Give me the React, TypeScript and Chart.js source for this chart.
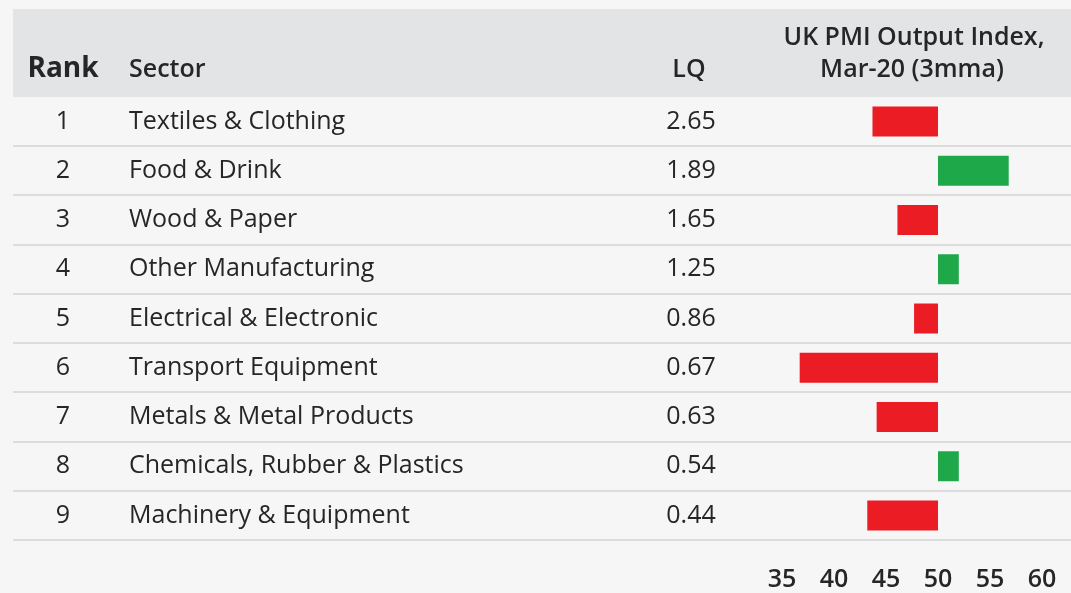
import React, { useEffect, useRef } from "react";
import { Chart, registerables } from "chart.js";

Chart.register(...registerables);

const ranks = ["1", "2", "3", "4", "5", "6", "7", "8", "9"];
const sectors = [
  "Textiles & Clothing",
  "Food & Drink",
  "Wood & Paper",
  "Other Manufacturing",
  "Electrical & Electronic",
  "Transport Equipment",
  "Metals & Metal Products",
  "Chemicals, Rubber & Plastics",
  "Machinery & Equipment",
];
const lqValues = ["2.65", "1.89", "1.65", "1.25", "0.86", "0.67", "0.63", "0.54", "0.44"];
const pmiValues = [43.7, 56.8, 46.1, 52.0, 47.7, 36.7, 44.1, 52.0, 43.2];
const xTickValues = [35, 40, 45, 50, 55, 60];
const baseline = 50;
const headerLabels = ["Rank", "Sector", "LQ"];
const pmiTitle = ["UK PMI Output Index,", "Mar-20 (3mma)"];

const FONT = "'Open Sans', Lato, sans-serif";
const TEXT = "#262626";
const RED = "#ec1c24";
const GREEN = "#1ea84a";

const tablePlugin = {
  id: "tablePlugin",
  beforeDraw(chart: any) {
    const { ctx, width, height } = chart;
    const area = chart.chartArea;
    ctx.save();
    ctx.fillStyle = "#f6f6f6";
    ctx.fillRect(0, 0, width, height);
    ctx.fillStyle = "#e3e4e6";
    ctx.fillRect(13, 9, width - 13, area.top - 9);
    const n = sectors.length;
    const rowH = (area.bottom - area.top) / n;
    ctx.strokeStyle = "#dcdcdc";
    ctx.lineWidth = 2;
    for (let i = 1; i <= n; i++) {
      const yy = Math.round(area.top + i * rowH);
      ctx.beginPath();
      ctx.moveTo(13, yy);
      ctx.lineTo(width, yy);
      ctx.stroke();
    }
    ctx.restore();
  },
  afterDraw(chart: any) {
    const { ctx } = chart;
    const y = chart.scales.y;
    ctx.save();
    ctx.fillStyle = TEXT;
    ctx.textBaseline = "middle";
    ctx.font = `bold 28px ${FONT}`;
    ctx.textAlign = "center";
    ctx.fillText(headerLabels[0], 63, 69);
    ctx.font = `600 25px ${FONT}`;
    ctx.textAlign = "left";
    ctx.fillText(headerLabels[1], 129, 70);
    ctx.textAlign = "center";
    ctx.fillText(headerLabels[2], 689, 70);
    ctx.fillText(pmiTitle[0], 914, 38);
    ctx.fillText(pmiTitle[1], 912, 70);
    for (let i = 0; i < sectors.length; i++) {
      const cy = y.getPixelForValue(i);
      ctx.font = `500 25px ${FONT}`;
      ctx.textAlign = "center";
      ctx.fillText(ranks[i], 63, cy);
      ctx.textAlign = "left";
      ctx.fillText(sectors[i], 129, cy);
      ctx.textAlign = "center";
      ctx.fillText(lqValues[i], 691, cy);
    }
    ctx.restore();
  },
};

export default function App() {
  const ref = useRef<HTMLCanvasElement | null>(null);
  useEffect(() => {
    if (!ref.current) return;
    const chart = new Chart(ref.current, {
      type: "bar",
      data: {
        labels: sectors,
        datasets: [
          {
            data: pmiValues.map((v) => [baseline, v]) as any,
            backgroundColor: pmiValues.map((v) => (v < baseline ? RED : GREEN)),
            borderWidth: 0,
            barPercentage: 0.61,
            categoryPercentage: 1,
          },
        ],
      },
      options: {
        indexAxis: "y",
        animation: false,
        responsive: false,
        maintainAspectRatio: false,
        layout: { padding: { left: 761.2, right: 8.2, top: 97, bottom: 0 } },
        plugins: { legend: { display: false }, tooltip: { enabled: false } },
        scales: {
          x: {
            type: "linear",
            min: 33,
            max: 62,
            grid: { display: false, drawTicks: true, tickLength: 25 },
            border: { display: false },
            afterBuildTicks: (scale: any) => {
              scale.ticks = xTickValues.map((v) => ({ value: v }));
            },
            afterFit: (scale: any) => {
              scale.height = 53;
            },
            ticks: {
              autoSkip: false,
              maxRotation: 0,
              padding: 0,
              color: TEXT,
              font: { family: FONT, size: 25, weight: "600" },
            },
          },
          y: {
            display: false,
            grid: { display: false },
          },
        },
      },
      plugins: [tablePlugin],
    });
    return () => chart.destroy();
  }, []);
  return (
    <div style={{ position: "fixed", left: 0, top: 0, width: 1071, height: 593 }}>
      <canvas ref={ref} width={1071} height={593} style={{ display: "block" }} />
    </div>
  );
}
